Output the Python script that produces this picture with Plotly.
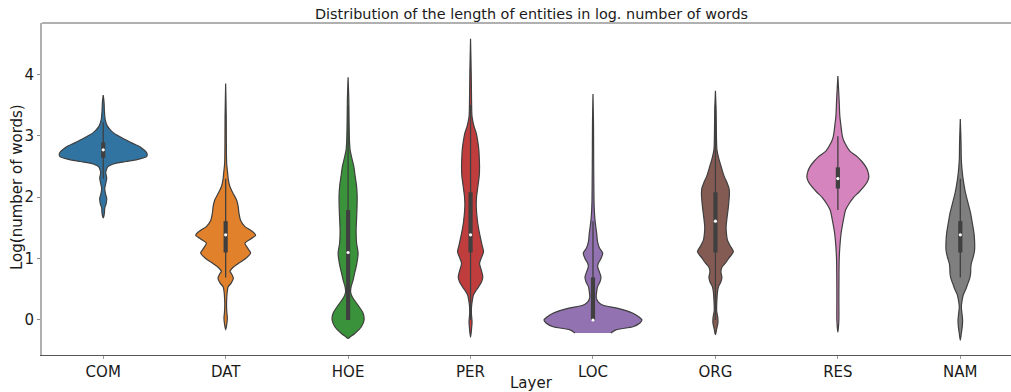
import plotly.graph_objects as go

# ---------------- data ----------------
layers = ["COM", "DAT", "HOE", "PER", "LOC", "ORG", "RES", "NAM"]
colors = ["#3274a1", "#e1812c", "#3a923a", "#c03d3e",
          "#9372b2", "#845b53", "#d684bd", "#7f7f7f"]

# density profiles: log(number of words) knots and relative density (arbitrary units)
com_y = [1.66, 1.74, 1.82, 1.90, 1.98, 2.06, 2.14, 2.22, 2.31, 2.40, 2.46, 2.50, 2.54, 2.58, 2.62, 2.66,
         2.70, 2.74, 2.78, 2.82, 2.88, 2.93, 3.00, 3.05, 3.09, 3.16, 3.26, 3.40, 3.55, 3.66]
com_d = [0, 1.2, 1.5, 3, 3.5, 2.2, 1.5, 2.5, 3.5, 2.5, 3.5, 5, 10, 23, 36, 43.3,
         44, 42.7, 40, 36.7, 29, 23, 15, 10, 7.3, 4, 2, 1.2, 0.8, 0]

dat_y = [-0.16, -0.08, 0.03, 0.12, 0.22, 0.33, 0.45, 0.54, 0.60, 0.68, 0.75, 0.79, 0.85, 0.92, 1.00, 1.09,
         1.17, 1.25, 1.32, 1.38, 1.45, 1.52, 1.62, 1.74, 1.85, 1.95, 2.06, 2.17, 2.28, 2.39, 2.55, 2.90, 3.30, 3.85]
dat_d = [0, 1, 1.7, 1.2, 0.9, 1, 1.5, 2.5, 5.5, 7.7, 6, 4.3, 7, 12.7, 20, 25,
         22, 19.3, 25, 30, 26, 19.3, 15, 13.3, 12.5, 11, 7.5, 4.3, 2.7, 2, 1, 0.7, 0.6, 0]

hoe_y = [-0.30, -0.27, -0.22, -0.11, 0.00, 0.11, 0.24, 0.33, 0.40, 0.46, 0.54, 0.65, 0.76, 0.90, 1.09,
         1.25, 1.45, 1.65, 1.88, 2.05, 2.20, 2.35, 2.50, 2.65, 2.77, 2.90, 3.20, 3.60, 3.95]
hoe_d = [0, 2.5, 6.7, 13.3, 16, 15, 10, 6, 3.5, 2.5, 3, 5, 6.5, 8.5, 10,
         8.5, 8, 8.5, 9, 9, 8.3, 7, 5.7, 3.5, 2, 1.4, 1, 0.7, 0]

per_y = [-0.28, -0.18, -0.03, 0.10, 0.22, 0.32, 0.41, 0.48, 0.54, 0.62, 0.70, 0.80, 0.92, 1.02, 1.11,
         1.22, 1.41, 1.60, 1.85, 2.00, 2.17, 2.35, 2.50, 2.65, 2.77, 2.90, 3.04, 3.15, 3.31, 3.60, 4.00, 4.58]
per_d = [0, 0.8, 1.5, 0.9, 1, 1.8, 3, 5.5, 8, 11, 12.3, 11, 9, 11, 13,
         11.5, 9, 7, 5.7, 6, 7.3, 8.7, 9, 8.7, 8.3, 7.3, 5.7, 3.5, 1.5, 1, 0.7, 0]

loc_y = [-0.21, -0.16, -0.11, -0.05, 0.00, 0.05, 0.11, 0.19, 0.24, 0.30, 0.37, 0.46, 0.54, 0.62, 0.70,
         0.78, 0.86, 0.92, 1.00, 1.09, 1.17, 1.28, 1.41, 1.52, 1.63, 1.80, 1.95, 2.50, 3.20, 3.68]
loc_d = [18, 23, 40, 47, 49, 46, 40, 25, 10, 5, 3.2, 3.7, 4.5, 7, 8,
         6.5, 4.7, 5.2, 8, 9.7, 6.5, 4.5, 3.7, 2.8, 2, 1.3, 1, 0.7, 0.5, 0]

org_y = [-0.24, -0.15, -0.05, 0.05, 0.15, 0.33, 0.45, 0.54, 0.62, 0.70, 0.78, 0.86, 0.92, 1.02, 1.11,
         1.20, 1.30, 1.41, 1.52, 1.65, 1.85, 2.06, 2.15, 2.23, 2.35, 2.50, 2.62, 2.77, 3.00, 3.40, 3.73]
org_d = [0, 1.2, 2.5, 2.3, 1.2, 1.5, 2, 3, 5.5, 6.5, 5.5, 6.5, 9.7, 14, 18,
         15, 12, 11, 10.7, 11.5, 13, 14, 13.5, 11.7, 8.5, 5.7, 3.5, 1.5, 1, 0.7, 0]

res_y = [-0.20, 0.00, 0.33, 0.70, 0.98, 1.15, 1.30, 1.42, 1.52, 1.65, 1.79, 1.90, 2.00, 2.08, 2.17,
         2.25, 2.33, 2.42, 2.50, 2.58, 2.66, 2.75, 2.88, 2.96, 3.04, 3.20, 3.31, 3.60, 3.97]
res_d = [0, 1, 1, 1.1, 1.3, 1.8, 2.5, 3.3, 4.3, 5.8, 7.7, 11.5, 16, 21, 26,
         29.5, 31, 30, 27.7, 24, 19.3, 12, 7, 5, 4, 2.8, 2, 1.2, 0]

nam_y = [-0.33, -0.22, -0.10, 0.00, 0.10, 0.22, 0.32, 0.41, 0.50, 0.60, 0.68, 0.76, 0.85, 0.92, 1.03,
         1.14, 1.28, 1.41, 1.58, 1.74, 1.90, 2.06, 2.20, 2.33, 2.47, 2.61, 2.90, 3.27]
nam_d = [0, 1, 2, 2.3, 1.7, 1, 1.8, 3, 5.5, 7.7, 9.5, 10.3, 10.5, 11, 13,
         14.3, 14.3, 13.7, 12, 10.3, 7.8, 5.3, 3.7, 2.5, 1.6, 1, 0.7, 0]

profiles_y = [com_y, dat_y, hoe_y, per_y, loc_y, org_y, res_y, nam_y]
profiles_d = [com_d, dat_d, hoe_d, per_d, loc_d, org_d, res_d, nam_d]

# inner box statistics
q1 = [2.64, 1.099, 0.0, 1.099, 0.0, 1.099, 2.14, 1.099]
q3 = [2.89, 1.609, 1.79, 2.079, 0.693, 2.079, 2.485, 1.609]
median = [2.77, 1.386, 1.099, 1.386, 0.0, 1.609, 2.303, 1.386]
whisker_lo = [2.30, 0.693, 0.0, 0.0, 0.0, 0.0, 1.79, 0.693]
whisker_hi = [3.22, 2.30, 3.50, 3.50, 1.609, 3.50, 2.99, 2.30]

# ---------------- figure ----------------
FONT = "DejaVu Sans"
MAX_HALF = 0.4
dmax = max(max(d) for d in profiles_d)

fig = go.Figure()

for i, (ys, ds, col) in enumerate(zip(profiles_y, profiles_d, colors)):
    half = [d / dmax * MAX_HALF for d in ds]
    xs = [i + h for h in half] + [i - h for h in reversed(half)]
    yy = list(ys) + list(reversed(ys))
    fig.add_trace(go.Scatter(
        x=xs, y=yy, mode="lines", fill="toself", fillcolor=col,
        line=dict(color="#3f3f3f", width=1.2, shape="spline", smoothing=0.7),
        hoverinfo="skip", showlegend=False))

wx, wy, bx, by = [], [], [], []
for i in range(len(layers)):
    wx += [i, i, None]
    wy += [whisker_lo[i], whisker_hi[i], None]
    bx += [i, i, None]
    by += [q1[i], q3[i], None]

fig.add_trace(go.Scatter(x=wx, y=wy, mode="lines",
                         line=dict(color="#3f3f3f", width=1.3),
                         hoverinfo="skip", showlegend=False))
fig.add_trace(go.Scatter(x=bx, y=by, mode="lines",
                         line=dict(color="#3f3f3f", width=4.2),
                         hoverinfo="skip", showlegend=False))
fig.add_trace(go.Scatter(x=list(range(len(layers))), y=median, mode="markers",
                         marker=dict(color="white", size=3.2, line=dict(width=0)),
                         hoverinfo="skip", showlegend=False))

fig.update_layout(
    width=1011, height=392,
    margin=dict(l=42, r=0, t=23, b=37, pad=0),
    paper_bgcolor="white", plot_bgcolor="white",
    font=dict(family=FONT, size=15, color="#1a1a1a"),
    xaxis=dict(
        range=[-0.5, 7.414], tickmode="array",
        tickvals=list(range(len(layers))), ticktext=layers,
        showgrid=False, zeroline=False,
        showline=True, linecolor="#555555", linewidth=1,
        ticks="outside", ticklen=2.5, tickwidth=1, tickcolor="#999999",
        tickfont=dict(family=FONT, size=15, color="#1a1a1a"),
    ),
    yaxis=dict(
        range=[-0.57, 4.835], tickmode="array",
        tickvals=[0, 1, 2, 3, 4], ticktext=["0", "1", "2", "3", "4"],
        showgrid=False, zeroline=False,
        showline=True, linecolor="#b0b0b0", linewidth=1.8,
        ticks="outside", ticklen=3, tickwidth=1, tickcolor="#888888",
        tickfont=dict(family=FONT, size=15, color="#1a1a1a"),
    ),
    shapes=[dict(type="line", xref="paper", yref="paper", x0=0, x1=1, y0=1, y1=1,
                 line=dict(color="#b0b0b0", width=1.8))],
    annotations=[
        dict(text="Distribution of the length of entities in log. number of words",
             xref="x", yref="paper", x=3.5, y=1, yshift=9, xanchor="center", yanchor="middle",
             showarrow=False, font=dict(family=FONT, size=14.4, color="#1a1a1a")),
        dict(text="Layer", xref="x", yref="paper", x=3.5, y=0, yshift=-28,
             xanchor="center", yanchor="middle", showarrow=False,
             font=dict(family=FONT, size=15, color="#1a1a1a")),
        dict(text="Log(number of words)", xref="paper", yref="paper", x=0, y=0.5,
             xshift=-25, yshift=2, textangle=-90, xanchor="center", yanchor="middle",
             showarrow=False, font=dict(family=FONT, size=15, color="#1a1a1a")),
    ],
)

fig.write_html("out.html")
